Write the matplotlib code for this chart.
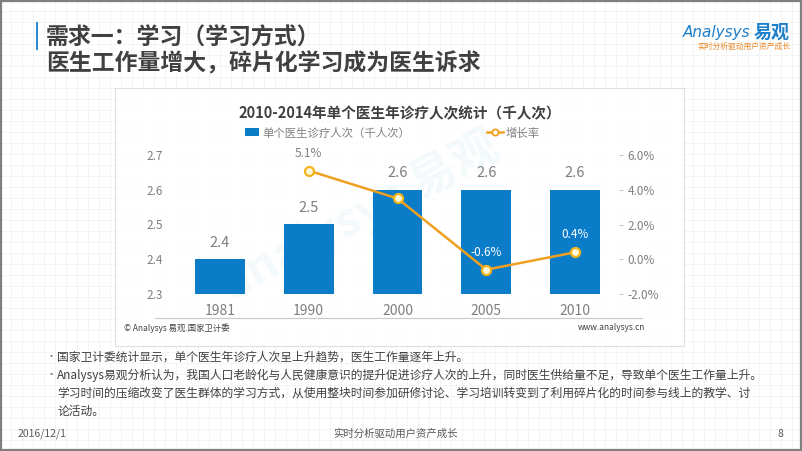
import matplotlib
matplotlib.use("Agg")
import matplotlib.pyplot as plt
from matplotlib.patches import Rectangle
from matplotlib.lines import Line2D
import numpy as np

plt.rcParams['font.family'] = ['Noto Sans CJK SC', 'DejaVu Sans']

# ---- data ----
categories = ['1981', '1990', '2000', '2005', '2010']
visits = [2.4, 2.5, 2.6, 2.6, 2.6]
growth = [None, 5.1, 3.5, -0.6, 0.4]
growth_labels = [None, '5.1%', None, '-0.6%', '0.4%']
left_ticks = [2.3, 2.4, 2.5, 2.6, 2.7]
right_ticks = [-2.0, 0.0, 2.0, 4.0, 6.0]

W, H = 802, 451
fig = plt.figure(figsize=(W / 100, H / 100), dpi=100)
fig.patch.set_facecolor('white')

def fx(px):
    return px / W

def fy(py):
    return 1 - py / H

# background faint grid
bg = fig.add_axes([0, 0, 1, 1], zorder=-10)
bg.set_xlim(0, W)
bg.set_ylim(H, 0)
bg.axis('off')
for gx in np.arange(0, W, 11):
    bg.axvline(gx, color='#F3F3F3', lw=0.6, zorder=0)
for gy in np.arange(0, H, 11):
    bg.axhline(gy, color='#F3F3F3', lw=0.6, zorder=0)
# chart panel
bg.add_patch(Rectangle((115, 88), 569, 258, facecolor='white', edgecolor='#DADADA',
                       lw=0.8, alpha=0.85, zorder=1))
# outer frame
bg.add_patch(Rectangle((0.8, 0.8), W - 1.8, H - 2.2, fill=False, edgecolor='#7F7F7F',
                       lw=1.6, zorder=6))
# title accent bar
bg.add_patch(Rectangle((36, 22), 2.2, 28, facecolor='#2B8AD0', edgecolor='none', zorder=5))
# line under categories
bg.plot([155, 642], [318, 318], color='#C8C8C8', lw=0.8, zorder=5)

# watermark
bg.text(360, 215, 'analysys 易观', fontsize=34, color='#3A9AD8', alpha=0.06,
        rotation=28, ha='center', va='center', fontweight='bold', zorder=2)

# titles
fig.text(fx(46), fy(38), '需求一：学习（学习方式）', fontsize=16.5, fontweight='bold',
         color='#404040', ha='left', va='center')
fig.text(fx(46), fy(64), '医生工作量增大，碎片化学习成为医生诉求', fontsize=16.5,
         fontweight='bold', color='#404040', ha='left', va='center')

# logo
fig.text(fx(683), fy(33), 'Analysys', fontsize=11, style='italic', color='#1E7FCB',
         ha='left', va='center', family=['DejaVu Sans'])
fig.text(fx(790), fy(32), '易观', fontsize=13, fontweight='bold', color='#1E7FCB',
         ha='right', va='center')
fig.text(fx(790), fy(47), '实时分析驱动用户资产成长', fontsize=5.6, color='#E88A2A',
         ha='right', va='center')

# chart title & legend
fig.text(fx(400), fy(113), '2010-2014年单个医生年诊疗人次统计（千人次）', fontsize=10.5,
         fontweight='bold', color='#404040', ha='center', va='center')
bg.add_patch(Rectangle((245, 128), 14, 8, facecolor='#0A7CC8', edgecolor='none', zorder=5))
fig.text(fx(262), fy(133), '单个医生诊疗人次（千人次）', fontsize=8.2, color='#808080',
         ha='left', va='center')
bg.plot([487, 503], [132, 132], color='#F0A020', lw=1.8, zorder=5)
bg.plot([495], [132], 'o', ms=4.5, mfc='white', mec='#F0A020', mew=1.3, zorder=6)
fig.text(fx(506), fy(133), '增长率', fontsize=8.2, color='#808080', ha='left', va='center')

# main axes
ax = fig.add_axes([fx(175.6), fy(294), fx(619.4) - fx(175.6), fy(155) - fy(294)])
ax.patch.set_alpha(0)
x = np.arange(len(categories))
bars = ax.bar(x, visits, width=0.56, color='#0A7CC8', zorder=2)
ax.set_ylim(2.3, 2.7)
ax.set_xlim(-0.5, len(categories) - 0.5)
ax.set_yticks(left_ticks)
ax.set_yticklabels([f'{t:.1f}' for t in left_ticks])
ax.set_xticks(x)
ax.set_xticklabels(categories)
ax.tick_params(axis='y', length=0, pad=9, labelsize=8.5, labelcolor='#7F7F7F')
ax.tick_params(axis='x', length=0, pad=7, labelsize=10, labelcolor='#7F7F7F')
for s in ax.spines.values():
    s.set_visible(False)
for xi, v in zip(x, visits):
    ax.annotate(f'{v:.1f}', (xi, v), xytext=(0, 7), textcoords='offset points',
                ha='center', va='bottom', fontsize=10.5, color='#7F7F7F')

ax2 = ax.twinx()
ax2.set_ylim(-2.0, 6.0)
ax2.set_yticks(right_ticks)
ax2.set_yticklabels([f'{t:.1f}%' for t in right_ticks])
ax2.tick_params(axis='y', length=3, width=0.6, color='#BFBFBF', pad=3,
                labelsize=8.5, labelcolor='#7F7F7F')
for s in ax2.spines.values():
    s.set_visible(False)
gx = [xi for xi, g in zip(x, growth) if g is not None]
gy = [g for g in growth if g is not None]
ax2.plot(gx, gy, color='#EFA020', lw=1.8, zorder=3)
ax2.plot(gx, gy, 'o', ms=6.5, mfc='#FFF8D8', mec='#F2B51E', mew=1.6, zorder=4)
for xi, g, lab in zip(x, growth, growth_labels):
    if lab is None:
        continue
    col = '#7F7F7F' if g > 4 else 'white'
    ax2.annotate(lab, (xi, g), xytext=(0, 8), textcoords='offset points',
                 ha='center', va='bottom', fontsize=8.5, color=col, zorder=5)

# source lines
fig.text(fx(124), fy(328), '© Analysys 易观.国家卫计委', fontsize=6, color='#404040',
         ha='left', va='center')
fig.text(fx(645), fy(328), 'www.analysys.cn', fontsize=6, color='#404040',
         ha='right', va='center')

# bullets
bullet_lines = [
    ('•', '国家卫计委统计显示，单个医生年诊疗人次呈上升趋势，医生工作量逐年上升。', 357),
    ('•', 'Analysys易观分析认为，我国人口老龄化与人民健康意识的提升促进诊疗人次的上升，同时医生供给量不足，导致单个医生工作量上升。', 375),
    ('', '学习时间的压缩改变了医生群体的学习方式，从使用整块时间参加研修讨论、学习培训转变到了利用碎片化的时间参与线上的教学、讨', 393),
    ('', '论活动。', 411),
]
for b, t, yy in bullet_lines:
    if b:
        fig.text(fx(46), fy(yy), b, fontsize=8, color='#7F7F7F', ha='left', va='center')
    fig.text(fx(57), fy(yy), t, fontsize=8.5, color='#404040', ha='left', va='center')

# footer
fig.text(fx(18), fy(434), '2016/12/1', fontsize=7.5, color='#595959', ha='left', va='center')
fig.text(fx(395), fy(434), '实时分析驱动用户资产成长', fontsize=7.5, color='#595959',
         ha='center', va='center')
fig.text(fx(780), fy(434), '8', fontsize=7.5, color='#595959', ha='center', va='center')

fig.savefig('out.png', dpi=100)
